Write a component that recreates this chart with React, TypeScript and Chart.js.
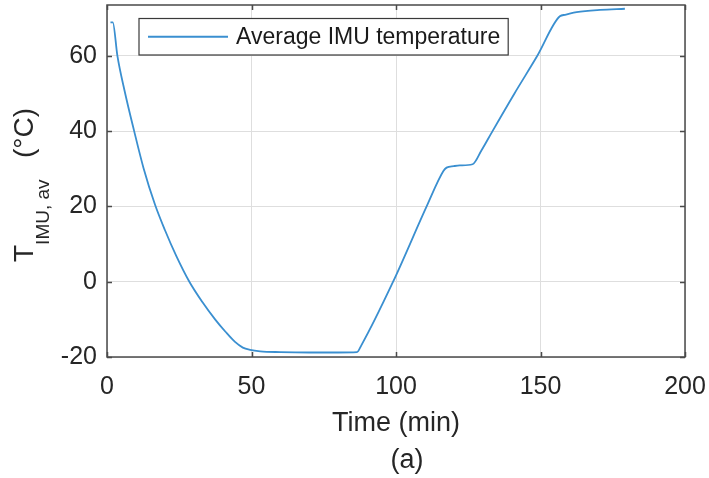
import React, { useEffect, useRef } from 'react';
import { Chart, registerables } from 'chart.js';

Chart.register(...registerables);

// ---- data ----
const timeMin = [1.2, 2.0, 3.6, 6.0, 9.4, 12.6, 16.6, 20, 24, 28.5, 33, 37.4, 41, 44.3, 47, 49.5, 53, 60, 70, 80, 86.5, 88, 99, 110.6, 116.4, 117.5, 120, 122.1, 126.5, 129.6, 133.4, 141, 148.9, 156.7, 158.5, 162.5, 170.6, 179.2];
const tempC = [68.9, 68.9, 60, 51, 40, 30.3, 20.5, 13.8, 6.8, 0, -5.4, -10, -13.3, -16, -17.5, -18.1, -18.5, -18.7, -18.8, -18.8, -18.7, -16.9, 0, 20, 29.4, 30.3, 30.7, 30.9, 31.2, 34.9, 40, 50, 60, 70.5, 70.9, 71.6, 72.2, 72.5];
const xTicks = [0, 50, 100, 150, 200];
const yTicks = [-20, 0, 20, 40, 60];
const seriesLabel = 'Average IMU temperature';
const xTitle = 'Time (min)';
const caption = '(a)';
const yTitleMain = 'T';
const yTitleSub = 'IMU, av';
const yTitleUnit = '(°C)';

const FAMILY = '"Liberation Sans", Arial, Helvetica, sans-serif';

export default function App() {
  const ref = useRef<HTMLCanvasElement>(null);

  useEffect(() => {
    document.body.style.margin = '0';
    const canvas = ref.current;
    if (!canvas) return;
    const lineColor = '#3a8fd0';
    const boxColor = '#4a4a4a';
    const textColor = '#262626';
    const gridColor = '#dedede';

    const decor = {
      id: 'decor',
      afterDraw(chart: any) {
        const { ctx, chartArea: a, scales } = chart;
        const xs = scales.x;
        const ys = scales.y;
        ctx.save();
        // axes box
        ctx.strokeStyle = boxColor;
        ctx.lineWidth = 1.5;
        ctx.strokeRect(a.left, a.top, a.right - a.left, a.bottom - a.top);
        // inward ticks
        ctx.beginPath();
        for (const v of xTicks) {
          const px = Math.round(xs.getPixelForValue(v)) + 0.5;
          ctx.moveTo(px, a.bottom); ctx.lineTo(px, a.bottom - 5);
          ctx.moveTo(px, a.top); ctx.lineTo(px, a.top + 5);
        }
        for (const v of yTicks) {
          const py = Math.round(ys.getPixelForValue(v)) + 0.5;
          ctx.moveTo(a.left, py); ctx.lineTo(a.left + 5, py);
          ctx.moveTo(a.right, py); ctx.lineTo(a.right - 5, py);
        }
        ctx.stroke();

        // legend (inside, top-left, boxed)
        ctx.font = `23px ${FAMILY}`;
        const tw = ctx.measureText(seriesLabel).width;
        const lx = a.left + 32, ly = a.top + 13.5;
        const lw = 97 + tw + 8, lh = 36.5;
        ctx.fillStyle = '#ffffff';
        ctx.fillRect(lx, ly, lw, lh);
        ctx.strokeStyle = '#3a3a3a';
        ctx.lineWidth = 1.2;
        ctx.strokeRect(lx, ly, lw, lh);
        ctx.strokeStyle = lineColor;
        ctx.lineWidth = 1.8;
        ctx.beginPath();
        ctx.moveTo(lx + 9, ly + lh / 2);
        ctx.lineTo(lx + 89, ly + lh / 2);
        ctx.stroke();
        ctx.fillStyle = '#1a1a1a';
        ctx.textBaseline = 'middle';
        ctx.textAlign = 'left';
        ctx.fillText(seriesLabel, lx + 97, ly + lh / 2 + 1);

        // x title and caption
        const cx = (a.left + a.right) / 2;
        ctx.fillStyle = textColor;
        ctx.textAlign = 'center';
        ctx.textBaseline = 'alphabetic';
        ctx.font = `27px ${FAMILY}`;
        ctx.fillText(xTitle, cx, 431);
        ctx.fillText(caption, cx + 11, 468);

        // y title with subscript, rotated
        ctx.translate(33, 0);
        ctx.rotate(-Math.PI / 2);
        ctx.textAlign = 'left';
        ctx.font = `28px ${FAMILY}`;
        const wT = ctx.measureText(yTitleMain).width;
        ctx.fillText(yTitleMain, -262, 0);
        ctx.font = `19px ${FAMILY}`;
        ctx.fillText(yTitleSub, -262 + wT, 16);
        ctx.font = `28px ${FAMILY}`;
        const wU = ctx.measureText(yTitleUnit).width;
        ctx.fillText(yTitleUnit, -108 - wU, 0);
        ctx.restore();
      },
    };

    const chart = new Chart(canvas, {
      type: 'line',
      data: {
        datasets: [
          {
            label: seriesLabel,
            data: timeMin.map((t, i) => ({ x: t, y: tempC[i] })),
            borderColor: lineColor,
            borderWidth: 1.8,
            pointRadius: 0,
            cubicInterpolationMode: 'monotone',
            fill: false,
          },
        ],
      },
      options: {
        responsive: false,
        animation: false,
        layout: { padding: { left: 0, top: 5, right: 24, bottom: 0 } },
        plugins: { legend: { display: false }, tooltip: { enabled: false } },
        scales: {
          x: {
            type: 'linear',
            min: 0,
            max: 200,
            afterBuildTicks: (s: any) => { s.ticks = xTicks.map((v) => ({ value: v })); },
            afterFit: (s: any) => { s.height = 121; s.paddingLeft = 0; s.paddingRight = 0; },
            grid: { color: gridColor, drawTicks: false, lineWidth: 1 },
            border: { display: false },
            ticks: { padding: 15, color: textColor, font: { family: FAMILY, size: 25 }, maxRotation: 0, autoSkip: false },
          },
          y: {
            type: 'linear',
            min: -20,
            max: 73.5,
            afterBuildTicks: (s: any) => { s.ticks = yTicks.map((v) => ({ value: v })); },
            afterFit: (s: any) => { s.width = 107; s.paddingTop = 0; s.paddingBottom = 0; },
            grid: { color: gridColor, drawTicks: false, lineWidth: 1 },
            border: { display: false },
            ticks: { padding: 10, color: textColor, font: { family: FAMILY, size: 25 }, autoSkip: false },
          },
        },
      },
      plugins: [decor],
    });
    return () => chart.destroy();
  }, []);

  return <canvas ref={ref} width={709} height={478} style={{ display: 'block' }} />;
}
